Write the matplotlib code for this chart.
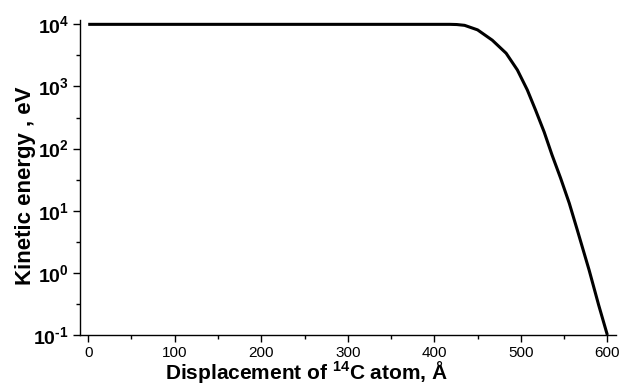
import numpy as np
import matplotlib
matplotlib.use("Agg")
import matplotlib.pyplot as plt
from matplotlib.ticker import FixedLocator, FixedFormatter, MultipleLocator

plt.rcParams['font.family'] = ['Liberation Sans', 'DejaVu Sans']
plt.rcParams['mathtext.fontset'] = 'custom'
plt.rcParams['mathtext.rm'] = 'Liberation Sans:bold'
plt.rcParams['mathtext.bf'] = 'Liberation Sans:bold'

# Data (displacement in Å, kinetic energy in eV)
displacement = [0, 100, 200, 300, 400, 418, 426, 435, 450, 467, 483, 496,
                507.5, 517, 527, 536, 546, 556, 565, 579, 590, 600]
energy = [10000, 10000, 10000, 10000, 10000, 10000, 9930, 9640, 8150, 5560,
          3430, 1845, 879, 418, 184.5, 79.4, 33.4, 13.2, 5.04, 1.10, 0.302, 0.1]

x_ticks = [0, 100, 200, 300, 400, 500, 600]
y_exponents = [-1, 0, 1, 2, 3, 4]

fig = plt.figure(figsize=(6.3, 3.85), dpi=100)
ax = fig.add_axes([80/630, 1-335/385, (616-80)/630, (335-20)/385])

ax.plot(displacement, energy, color='black', lw=2.2, solid_capstyle='butt',
        solid_joinstyle='round')

ax.set_yscale('log')
ax.set_xlim(-9.5, 610)
ax.set_ylim(0.1, 10**4.07)

ax.xaxis.set_major_locator(FixedLocator(x_ticks))
ax.xaxis.set_minor_locator(MultipleLocator(50))
ax.set_xticklabels([str(t) for t in x_ticks], fontsize=11)


def exp_label(e):
    s = str(e).replace('-', r'\text{-}')
    return r'$\mathbf{10^{%s}}$' % s


y_major = [10.0**e for e in y_exponents]
ax.yaxis.set_major_locator(FixedLocator(y_major))
ax.yaxis.set_major_formatter(FixedFormatter([exp_label(e) for e in y_exponents]))
ax.yaxis.set_minor_locator(FixedLocator([10.0**(e + 0.5) for e in y_exponents[:-1]]))
ax.yaxis.set_minor_formatter(FixedFormatter([''] * 5))
for lab in ax.get_yticklabels():
    lab.set_fontsize(14)

ax.tick_params(which='major', direction='out', length=5, width=1, colors='black', pad=3)
ax.tick_params(which='minor', direction='out', length=3, width=1, colors='black')

for side in ['top', 'right']:
    ax.spines[side].set_visible(False)
for side in ['left', 'bottom']:
    ax.spines[side].set_linewidth(1)
    ax.spines[side].set_color('black')

ax.set_xlabel(r'Displacement of $\mathbf{^{14}}$C atom, Å', fontsize=15,
              fontweight='bold')
ax.xaxis.set_label_coords((306-80)/536, -24/315)
ax.set_ylabel('Kinetic energy , eV', fontsize=16, fontweight='bold')
ax.yaxis.set_label_coords((36-80)/536, (335-186)/315)

fig.savefig('out.png', dpi=100)
